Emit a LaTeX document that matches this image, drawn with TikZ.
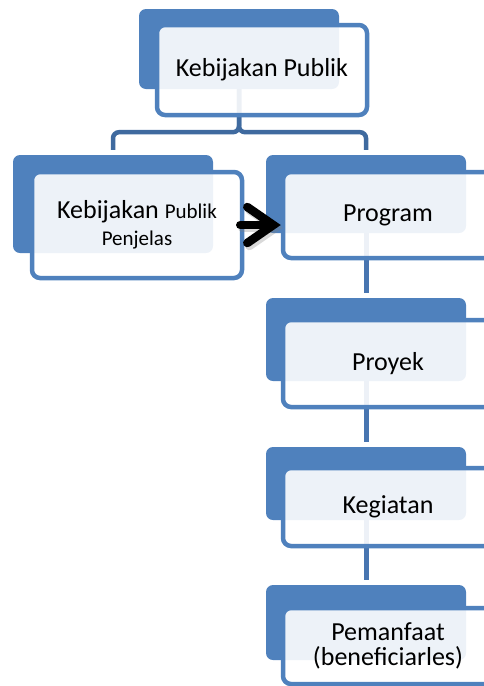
\documentclass[tikz,border=0pt]{standalone}
\usepackage{fontspec}
\setmainfont{Carlito}
\usepackage{xcolor}
\definecolor{AccentBlue}{HTML}{4F81BD}
\definecolor{HierBlue}{HTML}{3F6A9F}
\definecolor{StemBlue}{HTML}{4875B0}
\usepackage{tikz}
\usetikzlibrary{arrows.meta,positioning,calc}

\begin{document}
\begin{tikzpicture}[x=1pt,y=-1pt,>={Straight Barb[length=26pt,width=36pt,line cap=round]},
backbox/.style={fill=AccentBlue,rounded corners=7pt,minimum width=200pt,inner sep=0pt},
frontbox/.style={draw=AccentBlue,line width=4.5pt,fill=white,fill opacity=0.9,text opacity=1,rounded corners=8pt,minimum width=210pt,inner sep=0pt,align=center,font=\fontsize{26}{30}\selectfont},
link/.style={draw=HierBlue,line width=4.5pt,rounded corners=6pt},
stem/.style={draw=StemBlue,line width=5pt},
arr/.style={->,line width=8.5pt,line cap=round,shorten <=-4pt}]
\useasboundingbox (0,0) rectangle (484,686);
\clip (0,0) rectangle (484,686);
% back boxes
\node[backbox,minimum height=80pt] (topB) at (239,49) {};
\node[backbox,minimum height=98pt] (kpB) at (113,204) {};
\node[backbox,minimum height=78pt] (progB) at (366,194) {};
\node[backbox,minimum height=83pt] (proyB) at (366,339.5) {};
\node[backbox,minimum height=73pt] (kegB) at (366,483.5) {};
\node[backbox,minimum height=75pt] (pemB) at (366,622.5) {};
% connectors
\draw[link] (topB.south) -- ++(0,43) -| ([yshift=5pt]kpB.north);
\draw[link] (topB.south) -- ++(0,43) -| ([yshift=5pt]progB.north);
\draw[stem] (progB.south) -- ([yshift=5pt]proyB.north);
\draw[stem] (proyB.south) -- ([yshift=5pt]kegB.north);
\draw[stem] (kegB.south) -- ([yshift=5pt]pemB.north);
% front boxes
\node[frontbox,minimum height=90pt] (topF) at (262,70) {Kebijakan Publik};
\node[frontbox,minimum height=106pt] (kpF) at (137,225) {Kebijakan {\fontsize{21}{24}\selectfont Publik}\\[-3pt]{\fontsize{21}{24}\selectfont Penjelas}};
\node[frontbox,minimum height=86pt] (progF) at (388,215) {Program};
\node[frontbox,minimum height=87pt] (proyF) at (388,363.5) {Proyek};
\node[frontbox,minimum height=78pt] (kegF) at (388,507) {Kegiatan};
\node[frontbox,minimum height=76pt] (pemF) at (388,646) {Pemanfaat\\[-5pt](beneficiarles)};
% arrow
\draw[arr,draw=gray,opacity=0.3,transform canvas={shift={(2pt,-3pt)}}] (kpF.east) -- (kpF.east -| progF.west);
\draw[arr] (kpF.east) -- (kpF.east -| progF.west);
\end{tikzpicture}
\end{document}
